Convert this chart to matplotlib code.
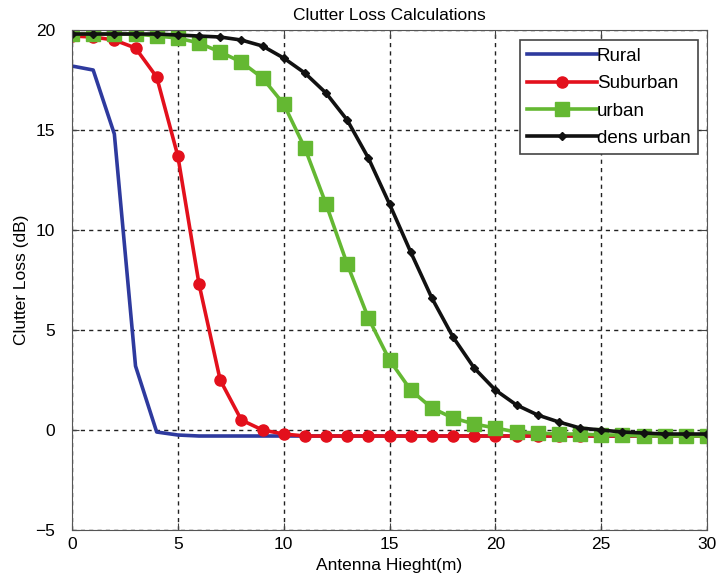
import matplotlib
matplotlib.use("Agg")
import matplotlib.pyplot as plt
import numpy as np

plt.rcParams['font.family'] = ['Liberation Sans', 'DejaVu Sans']

x = list(range(0, 31))
rural = [18.2, 18.0, 14.8, 3.2, -0.1, -0.25, -0.3, -0.3, -0.3, -0.3, -0.3,
         -0.3, -0.3, -0.3, -0.3, -0.3, -0.3, -0.3, -0.3, -0.3, -0.3,
         -0.3, -0.3, -0.3, -0.3, -0.3, -0.3, -0.3, -0.3, -0.3, -0.3]
suburban = [19.7, 19.65, 19.5, 19.1, 17.65, 13.7, 7.3, 2.5, 0.5, 0.0, -0.2,
            -0.3, -0.3, -0.3, -0.3, -0.3, -0.3, -0.3, -0.3, -0.3, -0.3,
            -0.3, -0.3, -0.3, -0.3, -0.3, -0.3, -0.3, -0.3, -0.3, -0.3]
urban = [19.8, 19.8, 19.8, 19.8, 19.7, 19.6, 19.35, 18.9, 18.4, 17.6, 16.3,
         14.1, 11.3, 8.3, 5.6, 3.5, 2.0, 1.1, 0.6, 0.3, 0.1,
         -0.1, -0.15, -0.2, -0.2, -0.25, -0.25, -0.3, -0.3, -0.3, -0.3]
dense_urban = [19.8, 19.8, 19.8, 19.8, 19.8, 19.75, 19.7, 19.65, 19.5, 19.2, 18.6,
               17.85, 16.85, 15.5, 13.6, 11.3, 8.9, 6.6, 4.65, 3.1, 2.0,
               1.25, 0.75, 0.4, 0.1, 0.0, -0.1, -0.15, -0.2, -0.2, -0.2]

labels = ["Rural", "Suburban", "urban", "dens urban"]

fig = plt.figure(figsize=(7.18, 5.83), dpi=100)
ax = fig.add_axes([0.1003, 0.0909, 0.8844, 0.8576])

ax.plot(x, rural, color='#2E3A9E', lw=2.6, label=labels[0])
ax.plot(x, suburban, color='#E3101C', lw=2.6, marker='o', ms=8, label=labels[1])
ax.plot(x, urban, color='#64B832', lw=2.6, marker='s', ms=10, label=labels[2])
ax.plot(x, dense_urban, color='#111111', lw=2.6, marker='D', ms=4, label=labels[3])

ax.set_xlim(0, 30)
ax.set_ylim(-5, 20)
ax.set_xticks([0, 5, 10, 15, 20, 25, 30])
ax.set_yticks([-5, 0, 5, 10, 15, 20])
ax.tick_params(direction='in', top=True, right=True, labelsize=12.5, length=5,
               color='#444444')
ax.tick_params(axis='y', pad=12)
ax.tick_params(axis='x', pad=5)
ax.grid(True, color='#222222', linestyle=(0, (3, 3)), linewidth=1.0)
ax.set_title("Clutter Loss Calculations", fontsize=12.5, pad=7)
ax.set_xlabel("Antenna Hieght(m)", fontsize=12.5, labelpad=4)
ax.set_ylabel("Clutter Loss (dB)", fontsize=12.5, labelpad=5)
for s in ax.spines.values():
    s.set_color('#555555')

leg = ax.legend(loc='upper right', fontsize=13.5, fancybox=False, edgecolor='#444444',
                handlelength=3.7, handletextpad=0.0, labelspacing=0.55,
                borderpad=0.4, borderaxespad=0.0, framealpha=1,
                bbox_to_anchor=(0.986, 0.98))
leg.get_frame().set_linewidth(1.2)

fig.savefig("out.png", dpi=100)
